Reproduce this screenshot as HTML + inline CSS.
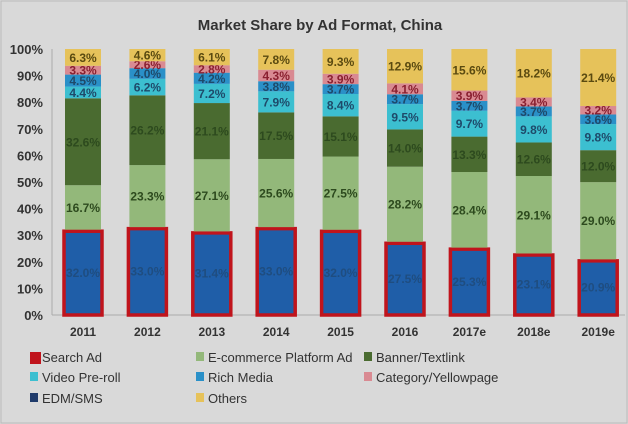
<!DOCTYPE html><html><head><style>body{margin:0;background:#d9d9d9}svg{display:block;font-family:"Liberation Sans",sans-serif}</style></head><body>
<svg id="s" width="628" height="424" xmlns="http://www.w3.org/2000/svg">
<rect width="628" height="424" fill="#d9d9d9"/>
<rect x="1" y="1" width="626" height="422" fill="none" stroke="#bbb"/>
<text x="320" y="30" text-anchor="middle" font-size="15" font-weight="bold" fill="#333">Market Share by Ad Format, China</text>
<g id="g"></g>
</svg>
<script>
var d=[["2011",32,16.7,32.6,4.4,4.5,3.3,6.3],["2012",33,23.3,26.2,6.2,4,2.6,4.6],["2013",31.4,27.1,21.1,7.2,4.2,2.8,6.1],["2014",33,25.6,17.5,7.9,3.8,4.3,7.8],["2015",32,27.5,15.1,8.4,3.7,3.9,9.3],["2016",27.5,28.2,14,9.5,3.7,4.1,12.9],["2017e",25.3,28.4,13.3,9.7,3.7,3.9,15.6],["2018e",23.1,29.1,12.6,9.8,3.7,3.4,18.2],["2019e",20.9,29,12,9.8,3.6,3.2,21.4]];
var c=["#1f5ea8","#93b87a","#4a6b30","#3cbfd0","#2a90c8","#d98a92","#e6c25a"];
var tc=["#1f4d80","#2d4a1e","#2d4a1e","#1e4a6a","#1e4a6a","#8a2030","#5a4a10"];
var y0=315,k=2.66,h="";
h+='<line x1="52" y1="49" x2="52" y2="315" stroke="#aaa"/><line x1="52" y1="315" x2="625" y2="315" stroke="#aaa"/>';
for(var i=0;i<=10;i++){h+='<text x="43" y="'+(y0-i*26.6+5)+'" text-anchor="end" font-size="13" font-weight="bold" fill="#333">'+(i*10)+'%</text>';}
d.forEach(function(r,j){var cx=83+j*64.4,y=y0,t=0;for(var s=1;s<=7;s++)t+=r[s];
for(var s=1;s<=7;s++){var v=r[s]*100/t,hh=v*k;y-=hh;
if(s==1){h+='<rect x="'+(cx-19)+'" y="'+(y+1.5)+'" width="38" height="'+(hh-1.5)+'" fill="'+c[0]+'" stroke="#c0141c" stroke-width="3.5"/>';}
else h+='<rect x="'+(cx-18)+'" y="'+y+'" width="36" height="'+hh+'" fill="'+c[s-1]+'"/>';
h+='<text x="'+cx+'" y="'+(y+hh/2+4.5)+'" text-anchor="middle" font-size="12" font-weight="bold" fill="'+tc[s-1]+'">'+r[s].toFixed(1)+'%</text>';}
h+='<text x="'+cx+'" y="336" text-anchor="middle" font-size="12" font-weight="bold" fill="#333">'+r[0]+'</text>';});
var L=[["Search Ad",35,362,"#c0141c"],["E-commerce Platform Ad",201,362,c[1]],["Banner/Textlink",369,362,c[2]],["Video Pre-roll",35,382,c[3]],["Rich Media",201,382,c[4]],["Category/Yellowpage",369,382,c[5]],["EDM/SMS",35,403,"#1f3a6a"],["Others",201,403,c[6]]];
L.forEach(function(l){h+='<rect x="'+(l[1]-5)+'" y="'+(l[2]-10)+'" width="'+(l[0]=="Search Ad"?11:8)+'" height="'+(l[0]=="Search Ad"?12:9)+'" fill="'+l[3]+'"/>';h+='<text x="'+(l[1]+7)+'" y="'+l[2]+'" font-size="13" fill="#333">'+l[0]+'</text>';});
document.getElementById("g").innerHTML=h;
</script></body></html>
